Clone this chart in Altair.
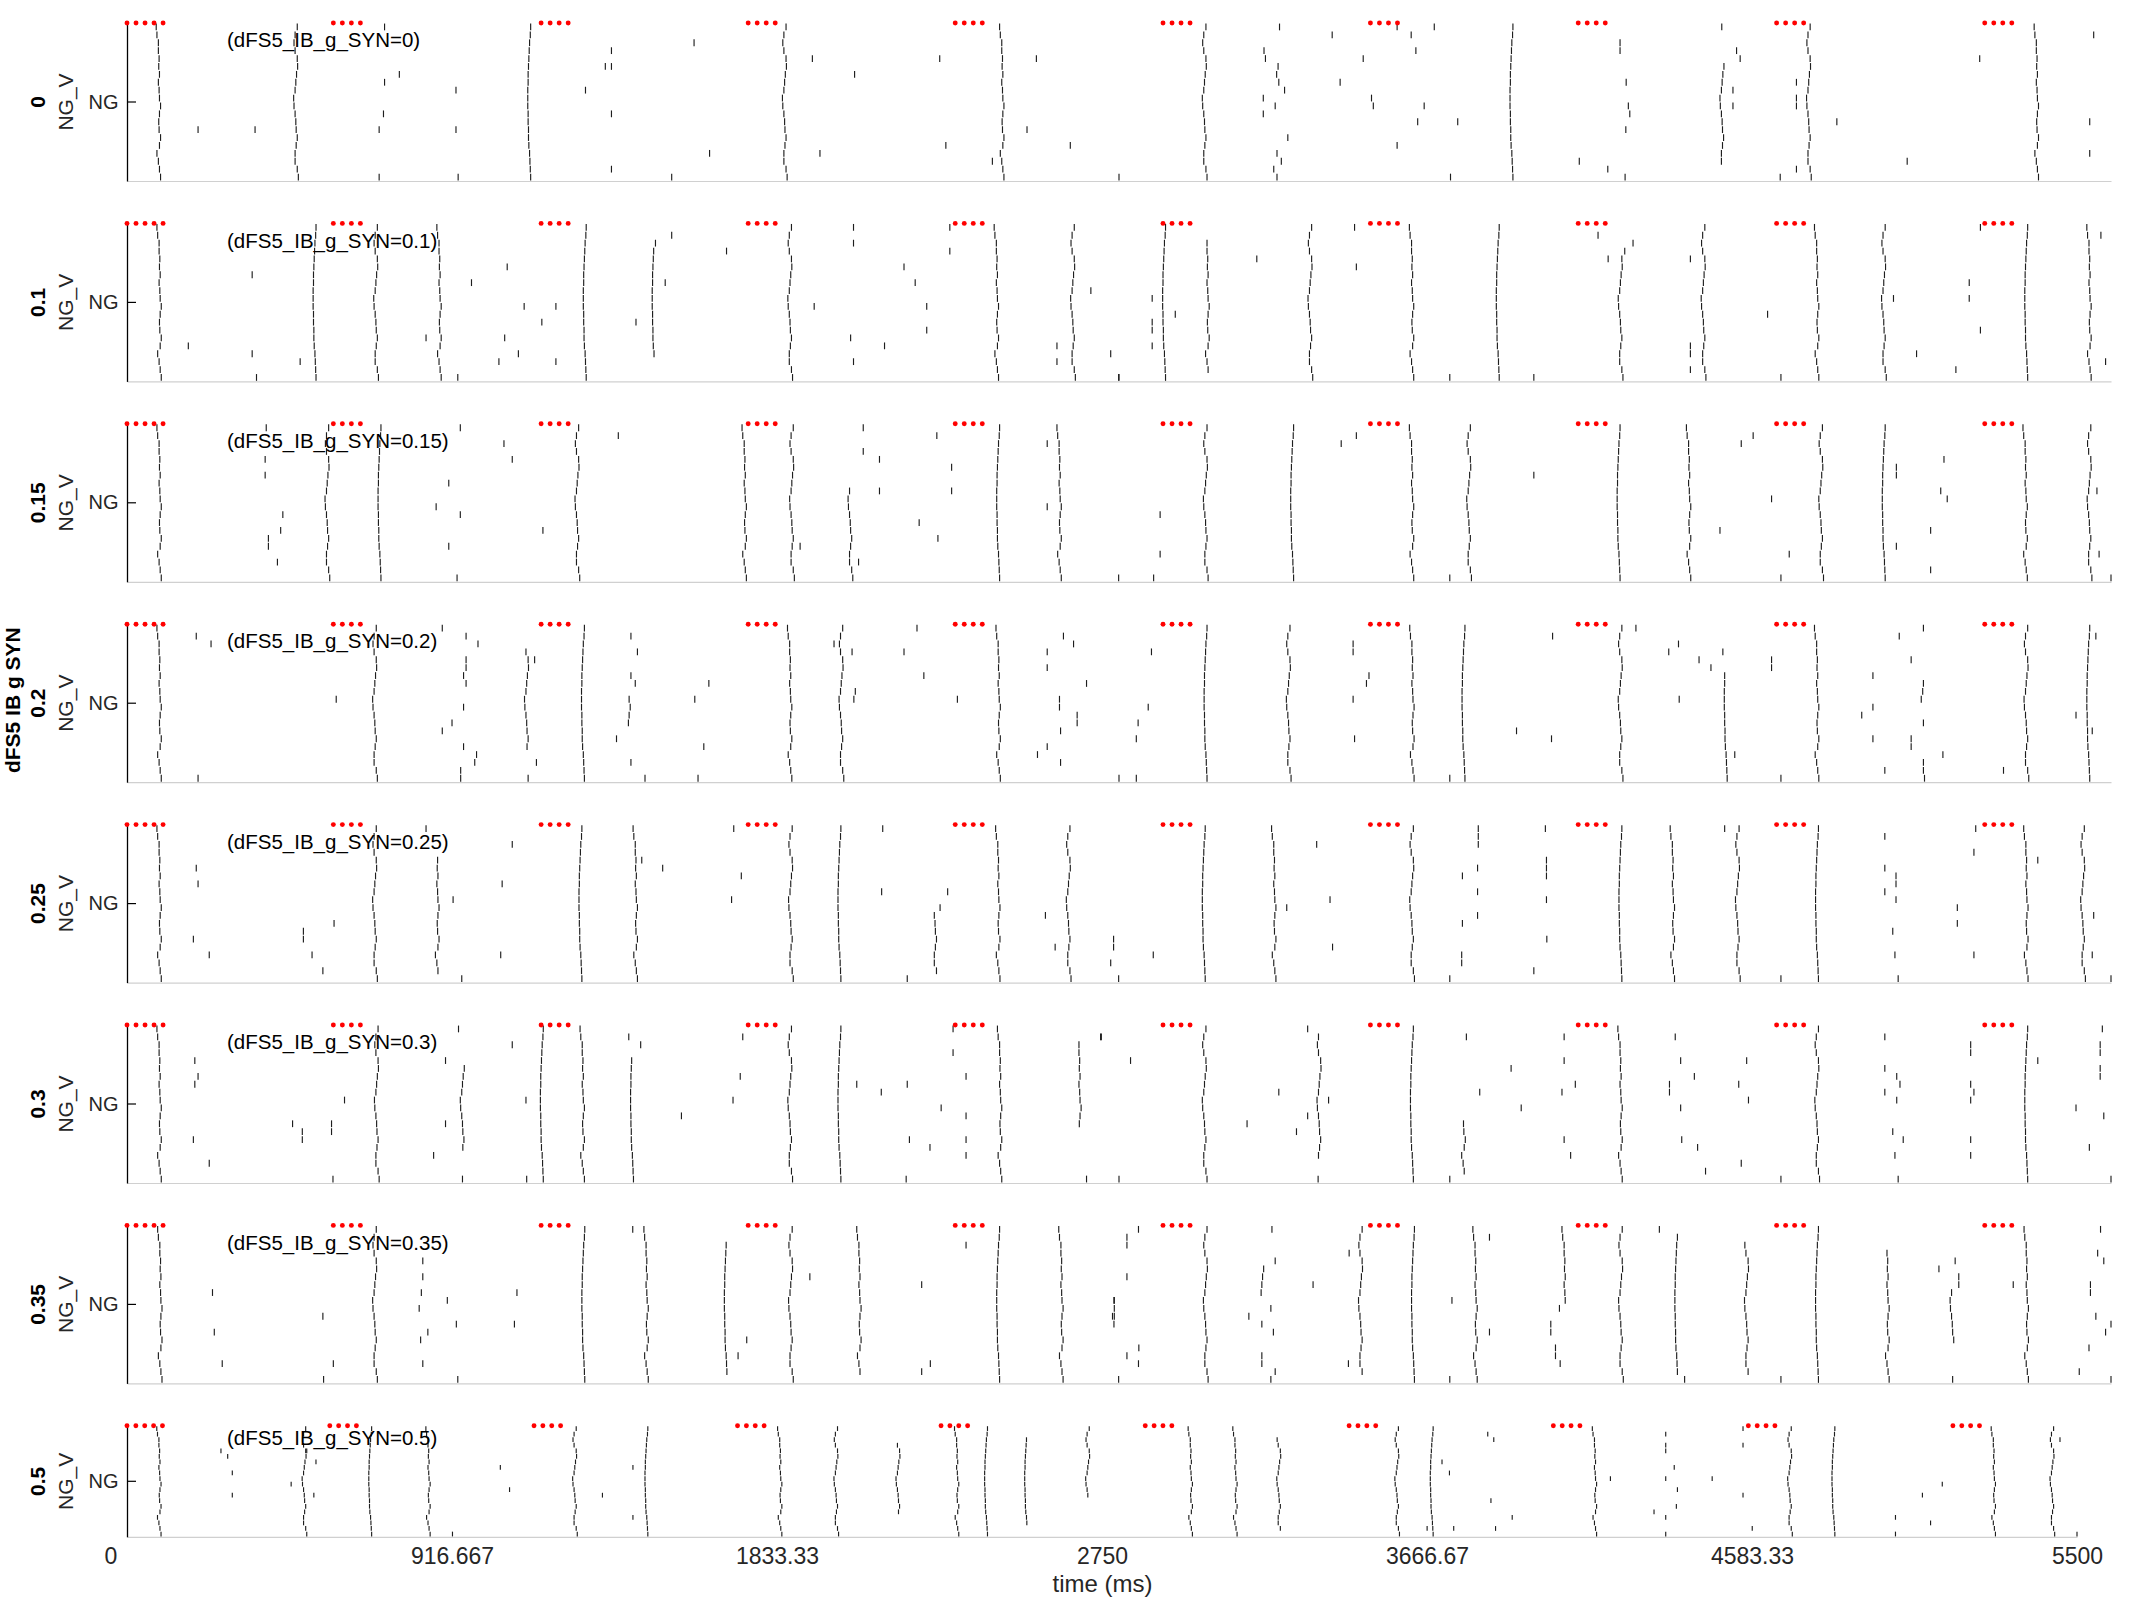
import altair as alt
import pandas as pd

# ---------------- data ----------------
PANEL_VALUES = ["0", "0.1", "0.15", "0.2", "0.25", "0.3", "0.35", "0.5"]
PANEL_TEXTS = ["(dFS5_IB_g_SYN=0)", "(dFS5_IB_g_SYN=0.1)", "(dFS5_IB_g_SYN=0.15)",
               "(dFS5_IB_g_SYN=0.2)", "(dFS5_IB_g_SYN=0.25)", "(dFS5_IB_g_SYN=0.3)",
               "(dFS5_IB_g_SYN=0.35)", "(dFS5_IB_g_SYN=0.5)"]
X_TICK_VALUES = [0, 916.667, 1833.333, 2750, 3666.667, 4583.333, 5500]
X_TICK_LABELS = ["0", "916.667", "1833.33", "2750", "3666.67", "4583.33", "5500"]

# stimulus pulse times (red dots)
STIM_TIMES = [0, 25, 50, 75, 100, 572, 597, 622, 647, 1148, 1173, 1198, 1223,
              1722, 1747, 1772, 1797, 2296, 2321, 2346, 2371, 2872, 2897, 2922, 2947,
              3447, 3472, 3497, 3522, 4023, 4048, 4073, 4098, 4573, 4598, 4623, 4648,
              5150, 5175, 5200, 5225]

# per-cell latency shapes of synchronous volleys (ms), cell 0 = top row
SHAPE_A = [4, -2, -5, -2, 4, 5, 2, 0, -2, -6, -5, -2, 0, 1, 4, 1, -2, -2, 4, 7]
SHAPE_B = [-7, -5, -1, -1, 1, 0, 2, -1, 1, 2, 5, 2, 0, 1, 5, 2, -5, -1, 2, 5]
SHAPE_C = [4, 3, 1, 0, -1, -2, -3, -3, -4, -4, -4, -3, -3, -2, -2, -1, 1, 2, 3, 4]
SHAPES = [SHAPE_A, SHAPE_B, SHAPE_C]

# full volleys: (time ms, shape)
VOLLEYS = [
    [(88, 1), (468, 0), (1115, 2), (1823, 0), (2426, 1), (2987, 0), (3838, 2), (4662, 0), (5294, 1)],
    [(90, 1), (520, 2), (690, 0), (866, 1), (1269, 2), (1838, 0), (2411, 1), (2622, 0), (2875, 2),
     (3280, 0), (3562, 1), (3800, 2), (4370, 0), (4685, 1), (4870, 0), (5265, 2), (5440, 1)],
    [(90, 1), (555, 0), (700, 2), (1248, 0), (1712, 1), (1843, 0), (2415, 2), (2585, 1), (2990, 0),
     (3230, 2), (3562, 1), (3720, 0), (4135, 2), (4330, 1), (4696, 0), (4870, 2), (5263, 1), (5440, 0)],
    [(90, 1), (687, 0), (1264, 2), (1838, 1), (1980, 0), (2416, 1), (2990, 2), (3220, 0), (3563, 1),
     (3705, 2), (4140, 0), (4685, 1), (5265, 0), (5437, 2)],
    [(90, 1), (687, 0), (1257, 2), (1410, 1), (1840, 0), (1975, 2), (2415, 1), (2610, 0), (2985, 2),
     (3180, 1), (3562, 0), (4140, 2), (4285, 1), (4465, 0), (4685, 2), (5265, 1), (5422, 0)],
    [(90, 1), (692, 0), (1150, 2), (1263, 1), (1838, 0), (1975, 2), (2420, 1), (2987, 0), (3562, 2),
     (4140, 1), (4685, 0), (5265, 2)],
    [(92, 1), (687, 0), (1265, 2), (1440, 1), (1840, 0), (2415, 2), (2590, 1), (2990, 0), (3565, 2),
     (3738, 1), (4141, 0), (4685, 2), (5266, 1)],
    [(91, 1), (500, 0), (686, 2), (850, 1), (1263, 0), (1465, 2), (1842, 1), (2000, 0), (2423, 2),
     (3000, 1), (3582, 0), (3680, 2), (4140, 1), (4690, 0), (4813, 2), (5265, 1), (5430, 0)],
]

# partial volleys: (time ms, first cell, last cell, shape)
PARTIALS = [
    [(4422, 5, 17, 0)],
    [(1460, 3, 16, 2), (4140, 4, 19, 0), (2995, 2, 18, 1)],
    [(2005, 8, 19, 0)],
    [(1108, 3, 15, 0), (1390, 9, 12, 1), (4432, 6, 19, 2), (4980, 7, 9, 0)],
    [(860, 4, 18, 1), (2240, 11, 18, 0)],
    [(930, 5, 15, 0), (1400, 4, 19, 2), (2640, 2, 12, 1), (3305, 1, 16, 0), (3705, 12, 18, 1)],
    [(1660, 2, 18, 2), (2030, 0, 18, 1), (3146, 5, 8, 0), (3420, 0, 18, 0), (3985, 0, 9, 1),
     (4295, 1, 18, 2), (4490, 2, 18, 0), (4880, 3, 19, 1), (5060, 8, 14, 0)],
    [(2175, 3, 15, 0), (2341, 0, 19, 1), (2536, 2, 17, 2), (2710, 0, 12, 0), (3126, 0, 19, 1),
     (3249, 2, 18, 0)],
]

# isolated spikes: (time ms, cell)
SINGLES = [
    [(197, 13), (355, 13), (714, 0), (714, 7), (711, 11), (699, 13), (699, 19), (755, 6), (912, 8),
     (912, 13), (918, 19), (1271, 8), (1326, 5), (1343, 3), (1343, 5), (1343, 11), (1343, 18),
     (1510, 19), (1572, 2), (1615, 16), (1900, 4), (1921, 16), (2017, 6), (2253, 4), (2270, 15),
     (2399, 17), (2495, 13), (2521, 4), (2615, 15), (2750, 19), (3152, 3), (3156, 4), (3191, 5),
     (3187, 6), (3193, 7), (3209, 8), (3150, 9), (3183, 10), (3150, 11), (3218, 14), (3188, 16),
     (3200, 17), (3179, 18), (3188, 19), (3195, 0), (3341, 1), (3363, 7), (3427, 4), (3450, 9),
     (3455, 10), (3521, 15), (3521, 0), (3624, 0), (3560, 1), (3573, 3), (3596, 10), (3578, 12),
     (3689, 12), (3669, 19), (4139, 2), (4139, 3), (4156, 7), (4162, 10), (4166, 11), (4155, 13),
     (4026, 17), (4105, 18), (4153, 19), (4421, 0), (4462, 3), (4472, 4), (4452, 8), (4452, 10),
     (4628, 7), (4628, 9), (4628, 10), (4628, 18), (4583, 19), (4740, 12), (4935, 17), (5136, 4),
     (5452, 1), (5441, 12), (5441, 16), (5502, 19)],
    [(170, 15), (347, 6), (347, 16), (359, 19), (480, 17), (917, 19), (829, 14), (955, 7), (1054, 5),
     (1101, 10), (1189, 10), (1150, 12), (1047, 14), (1085, 16), (1031, 17), (1189, 17), (1510, 1),
     (1465, 2), (1492, 7), (1411, 12), (1662, 3), (1905, 10), (2014, 0), (2014, 2), (2006, 14),
     (2014, 17), (2100, 15), (2154, 5), (2185, 7), (2217, 10), (2217, 13), (2281, 0), (2281, 3),
     (2672, 8), (2750, 19), (2578, 15), (2578, 17), (2727, 16), (2749, 19), (2842, 9), (2842, 12),
     (2842, 13), (2842, 15), (2906, 11), (3132, 4), (3403, 0), (3408, 5), (3667, 19), (3900, 19),
     (4078, 1), (4175, 2), (4152, 3), (4106, 4), (4334, 4), (4334, 15), (4334, 16), (4334, 18),
     (4548, 11), (4585, 19), (4897, 9), (4961, 16), (5070, 18), (5107, 7), (5107, 9), (5138, 0),
     (5138, 13), (5472, 1), (5485, 17), (5503, 19)],
    [(386, 0), (383, 4), (383, 6), (432, 11), (426, 13), (392, 14), (392, 15), (417, 17), (924, 0),
     (1045, 2), (1068, 4), (892, 7), (857, 10), (924, 11), (892, 15), (915, 19), (1362, 1),
     (1153, 13), (1866, 15), (2028, 17), (2041, 0), (2041, 3), (2086, 4), (2086, 8), (2196, 12),
     (2248, 14), (2245, 1), (2286, 5), (2286, 8), (2551, 2), (2551, 10), (2864, 11), (2864, 16),
     (2846, 19), (2749, 19), (3366, 2), (3408, 1), (3900, 6), (3667, 19), (4416, 13), (4475, 2),
     (4508, 1), (4559, 9), (4608, 16), (4585, 19), (4905, 5), (4905, 6), (4905, 15), (5000, 13),
     (5000, 18), (5028, 8), (5037, 4), (5046, 9), (5461, 8), (5467, 16), (5500, 19)],
    [(192, 1), (233, 2), (197, 19), (580, 9), (874, 0), (940, 1), (973, 2), (940, 4), (940, 5),
     (940, 7), (933, 6), (933, 10), (933, 15), (901, 12), (874, 13), (969, 16), (964, 17), (925, 18),
     (925, 19), (1130, 4), (1135, 17), (1112, 19), (1397, 1), (1415, 3), (1397, 6), (1409, 7),
     (1357, 14), (1397, 17), (1436, 19), (1613, 7), (1574, 9), (1599, 15), (1583, 19), (1960, 2),
     (2010, 3), (2019, 8), (2015, 9), (2154, 3), (2190, 0), (2209, 6), (2302, 9), (2596, 1),
     (2624, 2), (2551, 3), (2551, 5), (2660, 7), (2585, 9), (2585, 10), (2634, 11), (2634, 12),
     (2588, 13), (2551, 15), (2524, 16), (2588, 17), (2750, 19), (2798, 19), (2840, 3), (2831, 10),
     (2803, 12), (2798, 14), (3399, 2), (3399, 3), (3443, 6), (3436, 7), (3399, 9), (3403, 14),
     (3667, 19), (3852, 13), (3952, 1), (3949, 14), (4183, 0), (4301, 2), (4274, 3), (4358, 4),
     (4391, 5), (4303, 9), (4424, 3), (4457, 16), (4559, 4), (4559, 5), (4585, 19), (4840, 6),
     (4840, 10), (4840, 14), (4809, 11), (4873, 18), (4913, 1), (4946, 4), (4946, 14), (4946, 15),
     (4980, 0), (4980, 12), (4980, 17), (4980, 18), (4983, 19), (5034, 16), (5202, 18), (5458, 1),
     (5403, 11), (5448, 13), (5503, 19)],
    [(192, 5), (197, 7), (184, 14), (228, 16), (489, 13), (489, 14), (513, 16), (543, 18), (574, 12),
     (829, 0), (904, 9), (928, 19), (1068, 2), (1040, 7), (1036, 16), (1427, 4), (1485, 5),
     (1682, 0), (1703, 6), (1676, 9), (2095, 0), (2092, 8), (2163, 19), (2254, 10), (2275, 8),
     (2546, 11), (2573, 15), (2735, 14), (2735, 15), (2749, 19), (2727, 17), (2845, 16), (3298, 2),
     (3335, 9), (3342, 15), (3215, 10), (3746, 0), (3746, 1), (3746, 2), (3702, 6), (3702, 12),
     (3744, 5), (3744, 8), (3744, 11), (3700, 16), (3700, 17), (3667, 19), (3932, 0), (3935, 4),
     (3935, 5), (3935, 6), (3935, 9), (3936, 14), (3900, 18), (4429, 0), (4585, 19), (4873, 1),
     (4873, 5), (4873, 8), (4904, 6), (4904, 7), (4904, 9), (4895, 13), (4901, 16), (4910, 19),
     (5074, 10), (5074, 12), (5120, 3), (5120, 16), (5125, 0), (5297, 4), (5452, 11), (5448, 16),
     (5500, 19)],
    [(188, 4), (188, 7), (197, 6), (184, 14), (228, 17), (459, 12), (486, 13), (486, 14), (567, 12),
     (567, 13), (603, 9), (571, 19), (919, 0), (883, 4), (883, 12), (930, 19), (850, 16), (1068, 2),
     (1106, 9), (1108, 19), (1391, 1), (1424, 2), (1537, 11), (1700, 6), (1680, 9), (1707, 1),
     (2023, 7), (2091, 8), (2163, 7), (2169, 14), (2226, 15), (2160, 19), (2257, 10), (2290, 0),
     (2290, 3), (2326, 6), (2326, 11), (2326, 14), (2326, 16), (2701, 1), (2660, 19), (2750, 19),
     (2699, 1), (2782, 4), (3273, 0), (3193, 8), (3105, 12), (3242, 13), (3331, 9), (3273, 11),
     (3302, 19), (3713, 1), (3750, 8), (3837, 5), (3865, 10), (3667, 19), (3984, 1), (3984, 4),
     (4015, 7), (3978, 8), (3984, 14), (4002, 16), (4292, 1), (4307, 4), (4276, 7), (4276, 8),
     (4307, 10), (4310, 14), (4354, 15), (4376, 18), (4345, 6), (4468, 7), (4495, 9), (4490, 4),
     (4475, 17), (4585, 19), (4873, 1), (4873, 5), (4873, 8), (4906, 6), (4906, 9), (4915, 7),
     (4895, 13), (4924, 14), (4901, 16), (4910, 19), (5111, 2), (5111, 3), (5111, 7), (5111, 9),
     (5111, 14), (5111, 16), (5120, 8), (5297, 4), (5403, 10), (5440, 15), (5470, 2), (5470, 3),
     (5470, 5), (5470, 6), (5476, 0), (5480, 11), (5500, 19)],
    [(237, 8), (242, 13), (264, 17), (543, 11), (572, 17), (545, 19), (820, 4), (820, 6), (816, 8),
     (810, 10), (888, 9), (834, 13), (814, 14), (820, 17), (913, 12), (917, 19), (1081, 8),
     (1074, 12), (1402, 0), (1718, 14), (1694, 16), (1893, 6), (2203, 7), (2227, 17), (2203, 18),
     (2326, 2), (2737, 9), (2737, 10), (2737, 11), (2804, 0), (2772, 1), (2772, 2), (2772, 6),
     (2736, 9), (2732, 11), (2736, 12), (2805, 15), (2772, 16), (2804, 17), (2749, 19), (3174, 0),
     (3183, 4), (3171, 10), (3110, 11), (3178, 13), (3183, 18), (3171, 19), (3146, 12), (3146, 16),
     (3146, 17), (3288, 7), (3388, 3), (3386, 17), (3673, 9), (3667, 19), (3777, 1), (3777, 13),
     (3971, 10), (3947, 12), (3947, 13), (3960, 15), (3960, 16), (3973, 17), (4248, 0), (4318, 19),
     (4585, 19), (5023, 5), (5068, 4), (5078, 6), (5078, 7), (5061, 19), (5229, 7), (5471, 0),
     (5463, 3), (5480, 4), (5443, 7), (5443, 8), (5458, 11), (5500, 12), (5485, 13), (5439, 15),
     (5412, 18), (5500, 19)],
    [(265, 4), (284, 5), (297, 8), (297, 12), (463, 10), (527, 12), (533, 6), (507, 4), (918, 19),
     (1053, 7), (1079, 11), (1341, 12), (1427, 7), (1427, 16), (3709, 6), (3730, 8), (3847, 13),
     (3838, 1), (3855, 2), (3907, 16), (3860, 18), (3742, 18), (3667, 18), (4184, 9), (4340, 1),
     (4340, 3), (4340, 4), (4340, 9), (4340, 16), (4340, 19), (4364, 7), (4373, 11), (4307, 15),
     (4370, 14), (4471, 9), (4558, 0), (4558, 3), (4558, 12), (4584, 18), (4988, 16), (4988, 19),
     (5064, 12), (5087, 17), (5120, 10), (5452, 2), (5500, 19)],
]

# ---------------- build tables ----------------
N_CELLS = 20
GAP = 0.07
rows = []
for k in range(len(PANEL_VALUES)):
    for t, s in VOLLEYS[k]:
        for c in range(N_CELLS):
            rows.append((k, t + SHAPES[s][c], c))
    for t, c0, c1, s in PARTIALS[k]:
        for c in range(c0, c1 + 1):
            rows.append((k, t + SHAPES[s][c], c))
    for t, c in SINGLES[k]:
        rows.append((k, t, c))
spikes = pd.DataFrame(rows, columns=["panel", "t", "cell"])
spikes["y0"] = N_CELLS - 1 - spikes["cell"] + GAP
spikes["y1"] = N_CELLS - spikes["cell"] - GAP
spikes = spikes[(spikes["t"] >= 0) & (spikes["t"] <= 5500)]

stim = pd.DataFrame({"t": STIM_TIMES})
stim["y"] = N_CELLS

FONT = "Liberation Sans"
TXT = "#262626"

label_expr = ""
for v, lab in zip(X_TICK_VALUES[1:], X_TICK_LABELS[1:]):
    label_expr += "abs(datum.value - %s) < 1 ? '%s' : " % (v, lab)
label_expr += "''"


def make_panel(k, width, height, bottom):
    d = spikes[spikes["panel"] == k]
    xs = alt.Scale(domain=[0, 5500], nice=False, zero=False)
    ys = alt.Scale(domain=[0, N_CELLS], nice=False, zero=False)
    if bottom:
        xaxis = alt.Axis(values=X_TICK_VALUES, labelExpr=label_expr, title="time (ms)",
                         ticks=False, grid=False, domainColor="#d0d0d0", domainWidth=1.2,
                         labelFontSize=23, labelPadding=9, labelFlush=False, labelColor=TXT,
                         titleFontSize=24, titleFontWeight="normal", titleColor=TXT,
                         titlePadding=4, labelFont=FONT, titleFont=FONT)
    else:
        xaxis = alt.Axis(labels=False, ticks=False, title=None, grid=False,
                         domainColor="#d0d0d0", domainWidth=1.2)
    yaxis = alt.Axis(values=[N_CELLS / 2], labelExpr="'NG'", tickSize=0, title=None,
                     grid=False, domainColor="#000000", domainWidth=1.3, labelFontSize=20,
                     labelPadding=9, labelColor=TXT, labelFont=FONT)

    sp = alt.Chart(d).mark_rule(color="#1e1e1e", strokeWidth=1.15).encode(
        x=alt.X("t:Q", scale=xs, axis=xaxis),
        y=alt.Y("y0:Q", scale=ys, axis=yaxis),
        y2="y1:Q",
    )
    dots = alt.Chart(stim).mark_circle(color="#ff0000", size=24, opacity=1).encode(
        x=alt.X("t:Q", scale=xs), y=alt.Y("y:Q", scale=ys))

    one = pd.DataFrame({"v": [PANEL_VALUES[k]], "txt": [PANEL_TEXTS[k]]})
    tick = alt.Chart(one).mark_rule(color="#000000", strokeWidth=1.2).encode(
        x=alt.value(0), x2=alt.value(9), y=alt.value(height / 2))
    ptxt = alt.Chart(one).mark_text(align="left", baseline="middle", fontSize=20.5,
                                    font=FONT, color="#000000").encode(
        x=alt.value(100), y=alt.value(height * 0.115), text="txt:N")
    vlab = alt.Chart(one).mark_text(angle=270, align="center", baseline="middle",
                                    fontSize=21, fontWeight="bold", font=FONT,
                                    color="#000000").encode(
        x=alt.value(-88), y=alt.value(height / 2), text="v:N")
    nglab = alt.Chart(one).mark_text(angle=270, align="center", baseline="middle",
                                     fontSize=21, font=FONT, color=TXT, text="NG_V").encode(
        x=alt.value(-60), y=alt.value(height / 2))
    layers = [sp, dots, tick, ptxt, vlab, nglab]
    if k == 3:
        big = alt.Chart(one).mark_text(angle=270, align="center", baseline="middle",
                                       fontSize=21, fontWeight="bold", font=FONT,
                                       color="#000000", text="dFS5 IB g SYN").encode(
            x=alt.value(-113), y=alt.value(76))
    else:
        big = alt.Chart(one).mark_text(angle=270, align="center", baseline="middle",
                                       fontSize=21, fontWeight="bold", font=FONT,
                                       opacity=0, text="d").encode(
            x=alt.value(-113), y=alt.value(height / 2))
    layers.append(big)
    if bottom:
        zero = alt.Chart(one).mark_text(align="center", baseline="top", fontSize=23,
                                        font=FONT, color=TXT, text="0").encode(
            x=alt.value(-16), y=alt.value(height + 9))
        layers.append(zero)
    return alt.layer(*layers).properties(width=width, height=height)


panels = []
for k in range(len(PANEL_VALUES)):
    if k == len(PANEL_VALUES) - 1:
        panels.append(make_panel(k, 1950, 111, True))
    else:
        panels.append(make_panel(k, 1984, 158, False))

chart = alt.vconcat(*panels, spacing=38.4).properties(
    padding={"left": 3, "top": 20, "right": 5, "bottom": 5},
    background="white",
).configure_view(stroke=None)

chart.save("out.html", embed_options={"renderer": "svg", "actions": False})
